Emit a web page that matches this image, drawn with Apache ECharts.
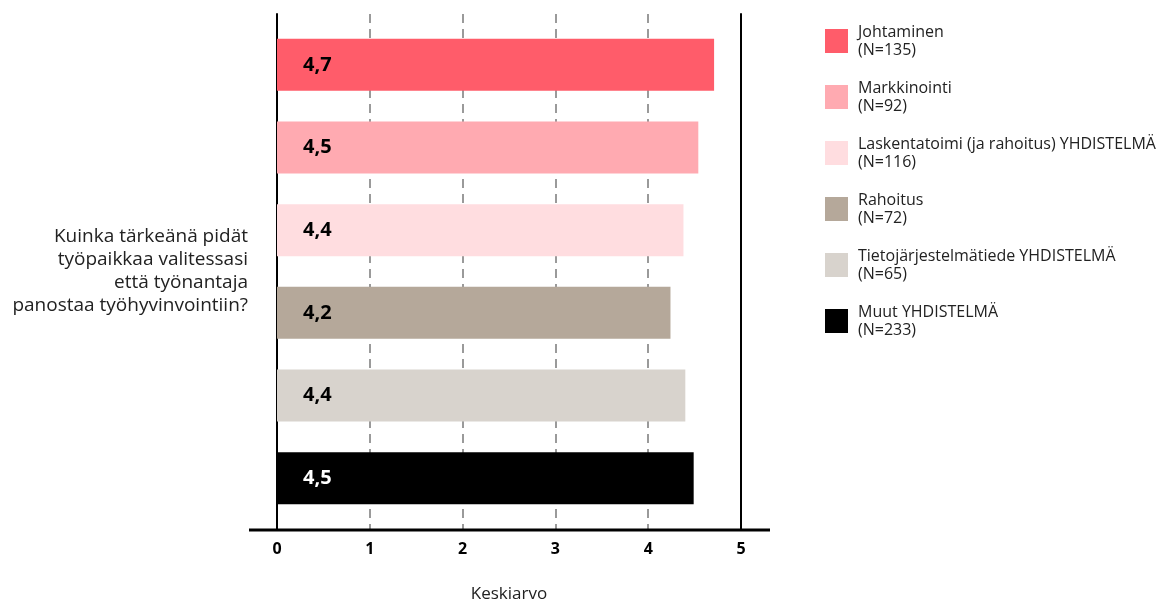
<!DOCTYPE html>
<html>
<head>
<meta charset="utf-8">
<script src="https://cdn.jsdelivr.net/npm/echarts@6/dist/echarts.min.js"></script>
<style>
  html, body { margin: 0; padding: 0; background: #fff; }
  #main { width: 1156px; height: 600px; }
</style>
</head>
<body>
<div id="main"></div>
<script>
const question = 'Kuinka tärkeänä pidät\ntyöpaikkaa valitessasi\nettä työnantaja\npanostaa työhyvinvointiin?';
const groups = ['Johtaminen', 'Markkinointi', 'Laskentatoimi (ja rahoitus) YHDISTELMÄ', 'Rahoitus', 'Tietojärjestelmätiede YHDISTELMÄ', 'Muut YHDISTELMÄ'];
const groupN = [135, 92, 116, 72, 65, 233];
const means = [4.71, 4.54, 4.38, 4.24, 4.40, 4.49];
const colors = ['#ff5c6a', '#ffaab1', '#ffdde0', '#b5a89a', '#d8d3cd', '#000000'];
const xTicks = [0, 1, 2, 3, 4, 5];

const FONT = 'Open Sans';
const chart = echarts.init(document.getElementById('main'));

const series = groups.map((g, i) => ({
  name: g + '\n(N=' + groupN[i] + ')',
  type: 'bar',
  data: [means[i]],
  barWidth: 52,
  barGap: '59%',
  itemStyle: { color: colors[i] },
  label: {
    show: true,
    position: 'insideLeft',
    distance: 26,
    fontFamily: FONT,
    fontWeight: 'bold',
    fontSize: 20,
    color: colors[i] === '#000000' ? '#fff' : '#000',
    formatter: p => p.value.toFixed(1).replace('.', ',')
  }
}));

chart.setOption({
  animation: false,
  color: colors,
  textStyle: { fontFamily: FONT },
  grid: { left: 277, right: 415, top: 14, bottom: 71, outerBoundsMode: 'none' },
  legend: {
    orient: 'vertical',
    left: 820,
    top: 18,
    icon: 'rect',
    itemWidth: 23,
    itemHeight: 24,
    itemGap: 20,
    textStyle: { fontFamily: FONT, fontSize: 16, lineHeight: 18, color: '#222', padding: [0, 0, 0, 5] }
  },
  xAxis: {
    type: 'value',
    min: xTicks[0],
    max: xTicks[xTicks.length - 1],
    interval: 1,
    name: 'Keskiarvo',
    nameLocation: 'middle',
    nameGap: 57,
    nameTextStyle: { fontFamily: FONT, fontSize: 17, color: '#222' },
    axisLine: { show: false },
    axisTick: { show: false },
    axisLabel: { fontFamily: FONT, fontSize: 16, fontWeight: 'bold', color: '#000', margin: 12 },
    splitLine: { show: true, lineStyle: { color: '#7a7a7a', width: 1.5, type: [9, 6] } }
  },
  yAxis: [
    {
      type: 'category',
      inverse: true,
      data: [question],
      axisLine: { show: true, lineStyle: { color: '#000', width: 2 } },
      axisTick: { show: false },
      axisLabel: { fontFamily: FONT, fontSize: 19, lineHeight: 23, color: '#222', align: 'right', margin: 29 }
    },
    {
      type: 'category',
      position: 'right',
      data: [question],
      axisLine: { show: true, lineStyle: { color: '#000', width: 2 } },
      axisTick: { show: false },
      axisLabel: { show: false }
    }
  ],
  graphic: [{
    type: 'line',
    shape: { x1: 249, y1: 530, x2: 770, y2: 530 },
    style: { stroke: '#000', lineWidth: 3 },
    z: 10
  }],
  series: series
});
</script>
</body>
</html>
